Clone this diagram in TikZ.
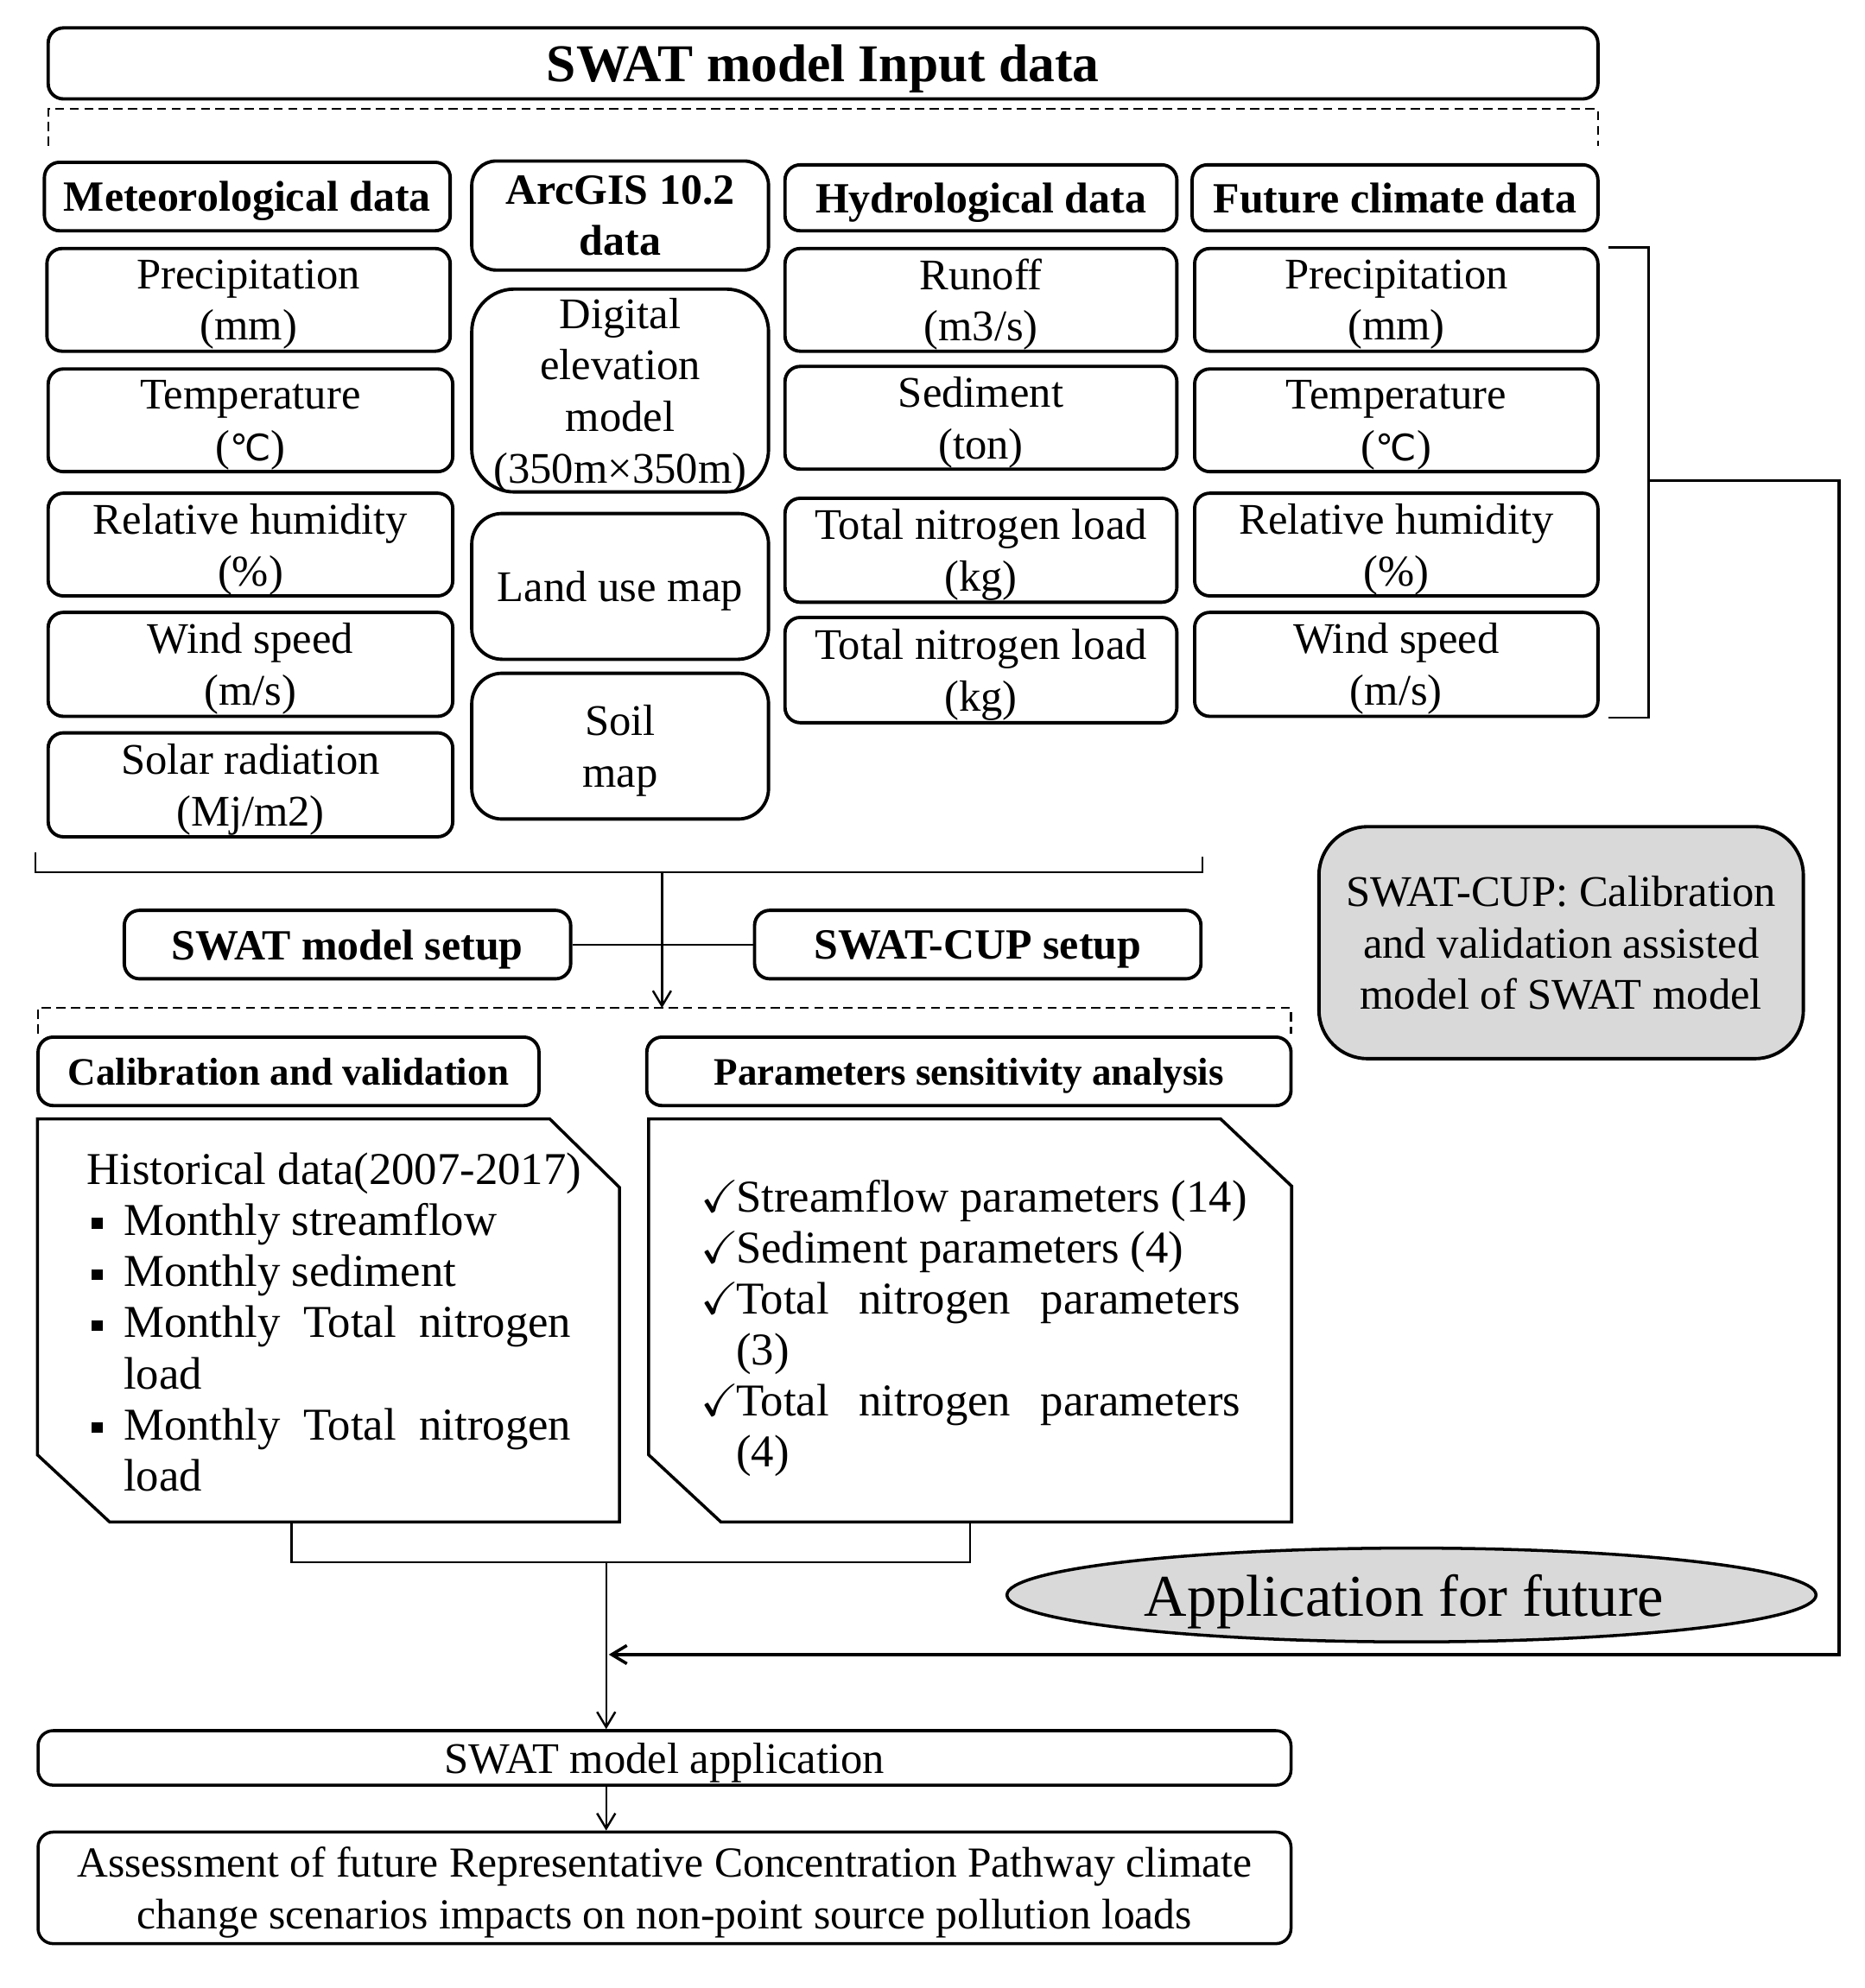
\documentclass[tikz,border=0pt]{standalone}
\usepackage{amssymb}
\usepackage{fontspec}
\setmainfont{Liberation Serif}
\newfontfamily\dejavu{DejaVu Sans}
\usetikzlibrary{calc,arrows.meta,shapes.geometric}
\definecolor{boxgray}{HTML}{D9D9D9}
\newcommand\degc{{\dejavu\fontsize{12}{17}\selectfont ℃}}
\newcommand\bul{\makebox[0.426cm][l]{\hspace*{1.6pt}\rule[2.2pt]{3.6pt}{3.6pt}}}
\newcommand\ck{\makebox[0.41cm][l]{$\checkmark$}}
\tikzset{
  corners/.style n args={4}{minimum width={(#3-#1)*0.01468cm}, minimum height={(#4-#2)*0.01468cm},
    at={({(#1+#3)/2},{(#2+#4)/2})}},
  rbox/.style={draw, line width=1.1pt, rounded corners=5pt, inner sep=0pt, align=center,
    text depth=0pt, font=\fontsize{14.4}{17}\selectfont},
  abox/.style={rbox, rounded corners=10pt},
  hbox/.style={rbox, font=\fontsize{14.2}{16.8}\selectfont\bfseries},
  sbox/.style={rbox, font=\fontsize{12.8}{15}\selectfont\bfseries},
  tbox/.style={rbox, font=\fontsize{17.5}{20}\selectfont\bfseries},
  chbox/.style={draw, line width=1pt},
  conn/.style={draw, line width=0.7pt},
  loopline/.style={draw, line width=1pt},
  arr/.style={conn, -{Straight Barb[length=5pt,width=6pt]}},
  dsh/.style={draw, line width=0.6pt, dash pattern=on 3pt off 1.8pt},
  txt/.style={anchor=north west, inner sep=0pt, align=left, font=\fontsize{15}{16.8}\selectfont},
}
\begin{document}
\begin{tikzpicture}[x=0.01468cm, y=-0.01468cm]
\useasboundingbox (0,0) rectangle (1470,1568);

% title and dashed bracket
\node[tbox, corners={38}{22}{1260}{78}] (title) {SWAT model Input data};
\draw[dsh] (38,115) |- (1260,86) -- (1260,115);

% column headers
\node[hbox, corners={35}{128}{355}{182}] (methead) {Meteorological data};
\node[hbox, rounded corners=8pt, corners={372}{127}{606}{213}] (archead) {ArcGIS 10.2\\data};
\node[hbox, corners={619}{130}{928}{182}] (hydhead) {Hydrological data};
\node[hbox, corners={940}{130}{1260}{182}] (futhead) {Future climate data};

% meteorological
\node[rbox, corners={37}{196}{355}{277}] (met1) {Precipitation\\(mm)};
\node[rbox, corners={38}{291}{357}{372}] (met2) {Temperature\\(\degc)};
\node[rbox, corners={38}{389}{357}{470}] (met3) {Relative humidity\\(\%)};
\node[rbox, corners={38}{483}{357}{565}] (met4) {Wind speed\\(m/s)};
\node[rbox, corners={38}{578}{357}{660}] (met5) {Solar radiation\\(Mj/m2)};

% ArcGIS
\node[abox, rounded corners=14pt, corners={372}{228}{606}{388}] (arc1) {Digital\\elevation\\model\\(350m×350m)};
\node[abox, corners={372}{405}{606}{520}] (arc2) {Land use map};
\node[abox, corners={372}{531}{606}{646}] (arc3) {Soil\\map};

% hydrological
\node[rbox, corners={619}{196}{928}{277}] (hyd1) {Runoff\\(m3/s)};
\node[rbox, corners={619}{289}{928}{370}] (hyd2) {Sediment\\(ton)};
\node[rbox, corners={619}{393}{928}{475}] (hyd3) {Total nitrogen load\\(kg)};
\node[rbox, corners={619}{487}{928}{570}] (hyd4) {Total nitrogen load\\(kg)};

% future climate
\node[rbox, corners={942}{196}{1260}{277}] (fut1) {Precipitation\\(mm)};
\node[rbox, corners={942}{291}{1260}{372}] (fut2) {Temperature\\(\degc)};
\node[rbox, corners={942}{389}{1260}{470}] (fut3) {Relative humidity\\(\%)};
\node[rbox, corners={942}{483}{1260}{565}] (fut4) {Wind speed\\(m/s)};

% right bracket
\coordinate (rbt) at (1268,195);
\coordinate (rbb) at (1268,566);
\coordinate (rbm) at (1300,379);
\draw[conn] (rbt) -- (1300,195) -- (1300,566) -- (rbb);

% SWAT-CUP note and ellipse
\node[rbox, fill=boxgray, rounded corners=16pt, corners={1040}{652}{1422}{835}] (cup)
  {SWAT-CUP: Calibration\\and validation assisted\\model of SWAT model};
\node[draw, ellipse, line width=1pt, fill=boxgray, inner sep=0pt, text depth=0pt,
  minimum width=638*0.01468cm, minimum height=74*0.01468cm,
  font=\fontsize{19.5}{22}\selectfont] (future) at (1113,1258) {Application for future\hspace*{0.25em}};

% input bracket and setup
\coordinate (ibL) at (28,672);
\coordinate (ibR) at (948,676);
\draw[conn] (ibL) -- (28,688) -| (ibR);
\coordinate (ibM) at (522,688);
\coordinate (ds2) at (522,795);
\node[hbox, corners={98}{718}{450}{772}] (setup1) {SWAT model setup};
\node[hbox, corners={595}{718}{947}{772}] (setup2) {SWAT-CUP setup};
\draw[conn] (setup1.east) -- (setup2.west);
\draw[arr] (ibM) -- (ds2);
\draw[dsh] (30,815) |- (1018,795) -- (1018,815);

% calibration / parameters
\node[sbox, corners={30}{818}{425}{872}] (calhead) {Calibration and validation};
\node[sbox, corners={510}{818}{1018}{872}] (parhead) {Parameters sensitivity analysis};

\node[inner sep=0pt, corners={30}{883}{488}{1200}] (hist) {};
\draw[chbox] (hist.north west) -- ($(hist.north east)+(-55,0)$) -- ($(hist.north east)+(0,54)$)
  -- (hist.south east) -- ($(hist.south west)+(57,0)$) -- ($(hist.south west)+(0,-53)$) -- cycle;
\node[txt] (histtxt) at (68,909) {Historical data(2007-2017)\\
\bul Monthly streamflow\\
\bul Monthly sediment\\
\bul\makebox[5.18cm][s]{Monthly Total nitrogen}\\
\hspace*{0.426cm}load\\
\bul\makebox[5.18cm][s]{Monthly Total nitrogen}\\
\hspace*{0.426cm}load};

\node[inner sep=0pt, corners={512}{883}{1018}{1200}] (par) {};
\draw[chbox] (par.north west) -- ($(par.north east)+(-56,0)$) -- ($(par.north east)+(0,53)$)
  -- (par.south east) -- ($(par.south west)+(57,0)$) -- ($(par.south west)+(0,-53)$) -- cycle;
\node[txt] (partxt) at (552,930) {\ck Streamflow parameters (14)\\
\ck Sediment parameters (4)\\
\ck\makebox[5.84cm][s]{Total nitrogen parameters}\\
\hspace*{0.41cm}(3)\\
\ck\makebox[5.84cm][s]{Total nitrogen parameters}\\
\hspace*{0.41cm}(4)};

% merge
\coordinate (hL) at (230,1200);
\coordinate (merge) at (478,1232);
\draw[conn] (hL) |- (merge) -| (par.south);

% application and assessment
\node[rbox, line width=1pt, corners={30}{1365}{1018}{1408}] (appl) {SWAT model application};
\node[rbox, line width=1pt, font=\fontsize{14.1}{17}\selectfont, corners={30}{1445}{1018}{1533}] (assess)
  {Assessment of future Representative Concentration Pathway climate\\change scenarios impacts on non-point source pollution loads};
\draw[arr] (merge) -- (merge |- appl.north);
\draw[arr] (appl.south -| merge) -- (assess.north -| merge);

% loop back from future climate
\coordinate (loopc) at (1450,1305);
\coordinate (loopend) at (480,1305);
\draw[loopline, -{Straight Barb[length=5pt,width=6pt]}] (rbm) -| (loopc) -- (loopend);
\end{tikzpicture}
\end{document}
